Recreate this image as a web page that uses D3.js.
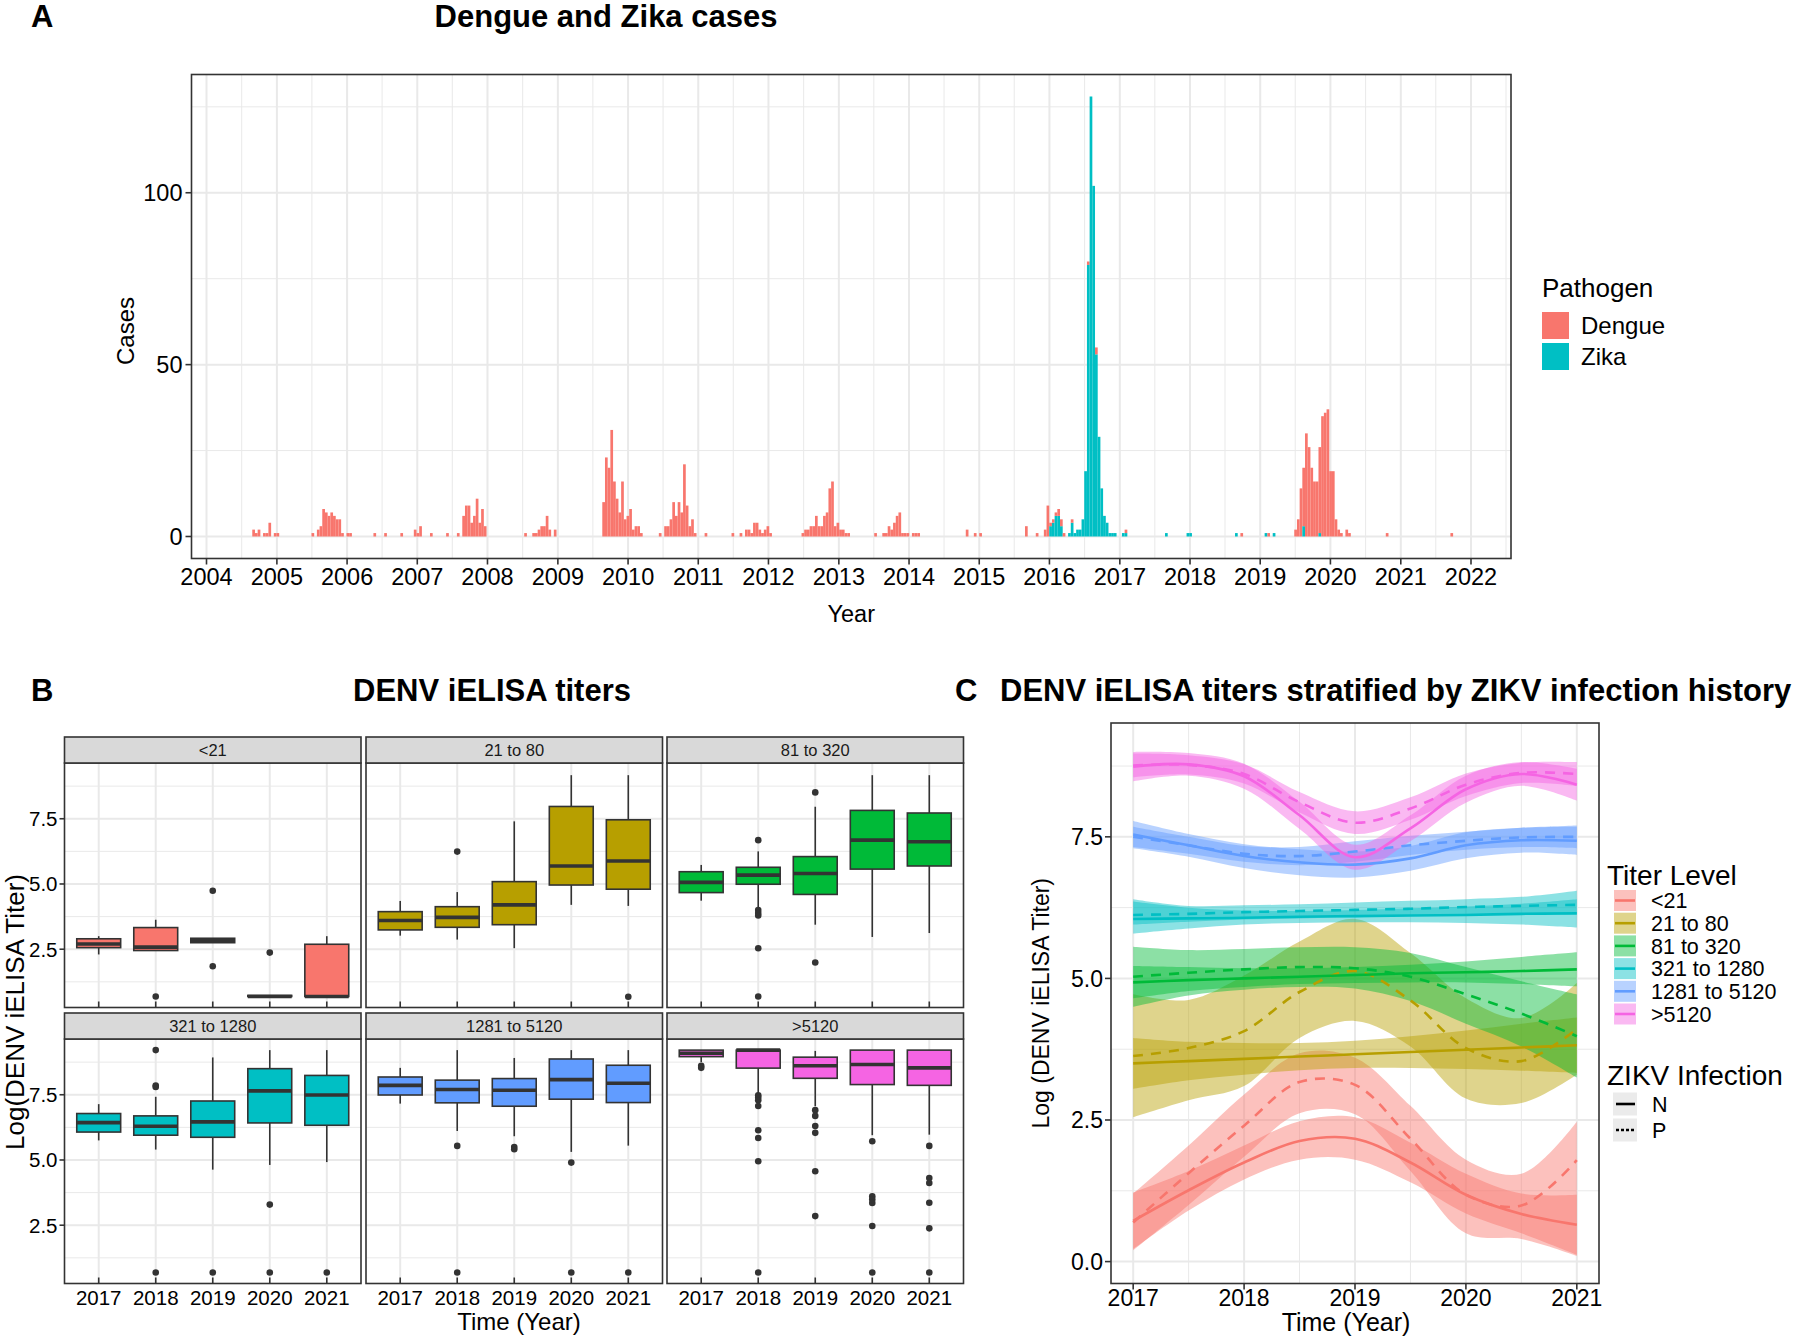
<!DOCTYPE html>
<html><head><meta charset="utf-8">
<script src="https://cdn.jsdelivr.net/npm/d3@7"></script>
<style>body{margin:0;background:#fff} svg{display:block} text{font-family:"Liberation Sans",Arial,Helvetica,sans-serif}</style>
</head><body>
<svg id="chart" width="1800" height="1340"></svg>
<script>
// ---------------- DATA ----------------
// Panel A: two-week bins counted from 2004-01-01 (bin index) and case counts
const binOrigin = "2004-01-01";
const dengueBin = [17,18,19,21,22,23,25,26,
  39,41,42,43,44,45,46,47,48,49,50,52,53,
  62,66,72,77,78,79,83,89,93,
  95,96,97,98,99,100,101,102,103,
  118,121,122,123,124,125,126,127,129,
  147,148,149,150,151,152,153,154,155,156,157,158,159,160,161,
  168,170,171,172,173,174,175,176,177,178,179,180,181,185,
  195,198,200,201,202,203,204,205,206,207,208,209,
  221,222,223,224,225,226,227,228,229,230,231,232,233,234,235,236,237,238,
  248,251,252,253,254,255,256,257,258,259,260,262,263,264,
  282,285,287,
  304,308,311,312,313,314,315,316,317,318,321,327,330,341,
  384,394,
  404,405,406,407,408,409,410,411,412,413,414,415,416,417,418,419,420,421,423,424,438,462];
const dengueCases = [2,1,2,1,1,4,1,1,
  1,2,3,8,7,6,7,6,5,5,1,1,1,
  1,1,1,2,1,3,1,1,1,
  6,9,9,4,6,11,4,8,3,
  1,1,1,2,3,3,6,2,2,
  10,23,20,31,16,11,7,16,5,6,8,2,3,3,1,
  1,3,3,5,10,6,10,7,21,9,3,5,1,1,
  1,1,2,2,1,4,4,2,1,2,3,1,
  1,2,2,3,3,6,3,3,6,7,14,16,3,4,2,2,1,1,
  1,1,1,3,2,4,6,7,1,1,1,1,1,1,
  2,1,1,
  3,1,2,9,1,1,1,2,2,1,1,1,2,1,
  1,1,
  2,5,14,17,30,26,20,16,16,25,35,36,37,19,19,5,2,1,2,1,1,1];
const zikaBin = [313,314,315,316,317,320,321,322,323,324,325,326,327,328,329,330,331,332,333,334,335,336,337,340,341,356,364,365,382,393,396,407,413];
const zikaCases = [3,4,6,6,3,1,4,1,2,2,5,19,79,128,102,53,29,14,6,4,1,1,1,1,1,1,1,1,1,1,1,3,1];
const pathogens = ["Dengue","Zika"];
const pathogenColors = ["#F8766D","#00BFC4"];
const yearTicksA = [2004,2005,2006,2007,2008,2009,2010,2011,2012,2013,2014,2015,2016,2017,2018,2019,2020,2021,2022];
const caseTicks = [0,50,100];

// Panel B: boxplot statistics (log titer) per titer level (rows) and year (columns)
const titerLevels = ["<21","21 to 80","81 to 320","321 to 1280","1281 to 5120",">5120"];
const titerColors = ["#F8766D","#B79F00","#00BA38","#00BFC4","#619CFF","#F564E3"];
const boxYears = ["2017","2018","2019","2020","2021"];
const boxLow  = [[2.30,2.45,2.75,0.69,0.69],[3.02,2.87,2.54,4.20,4.16],[4.36,4.11,3.44,2.97,3.12],[5.75,5.40,4.63,4.81,4.92],[7.16,6.11,5.91,5.31,5.55],[8.75,7.50,7.06,5.95,5.97]];
const boxQ1   = [[2.56,2.45,2.75,0.69,0.69],[3.24,3.34,3.44,4.96,4.80],[4.67,4.99,4.60,5.57,5.69],[6.07,5.95,5.87,6.42,6.33],[7.49,7.19,7.06,7.33,7.20],[8.96,8.52,8.13,7.89,7.86]];
const boxMed  = [[2.70,2.58,2.83,0.69,0.69],[3.60,3.72,4.20,5.69,5.88],[5.06,5.34,5.40,6.68,6.62],[6.43,6.29,6.46,7.65,7.49],[7.86,7.70,7.67,8.08,7.94],[9.09,9.21,8.61,8.66,8.53]];
const boxQ3   = [[2.90,3.33,2.92,0.73,2.69],[3.94,4.13,5.09,7.97,7.46],[5.47,5.64,6.05,7.82,7.72],[6.78,6.69,7.26,8.50,8.24],[8.18,8.06,8.12,8.87,8.63],[9.21,9.21,8.94,9.21,9.21]];
const boxHigh = [[3.00,3.63,2.92,0.73,3.00],[4.35,4.69,7.40,9.17,9.17],[5.73,6.25,7.96,9.17,9.17],[7.14,7.42,8.93,9.21,9.21],[8.53,9.21,8.91,9.21,9.21],[9.21,9.21,9.18,9.21,9.21]];
// outliers: [year index, value]
const boxOutliers = [
  [[1,0.69],[2,4.74],[2,1.85],[3,2.37]],
  [[1,6.24],[4,0.68]],
  [[1,6.68],[1,4.00],[1,3.89],[1,3.79],[1,2.54],[1,0.69],[2,8.51],[2,1.99]],
  [[1,9.21],[1,7.85],[1,7.80],[1,0.69],[2,0.69],[3,3.29],[3,0.69],[4,0.69]],
  [[1,5.54],[1,0.69],[2,5.50],[2,5.41],[3,4.90],[3,0.69],[4,0.69]],
  [[0,8.61],[0,8.53],[1,7.48],[1,7.39],[1,7.29],[1,7.07],[1,6.14],[1,5.84],[1,4.95],[1,0.69],
   [2,6.91],[2,6.69],[2,6.30],[2,6.04],[2,4.57],[2,2.85],
   [3,5.72],[3,3.61],[3,3.49],[3,3.35],[3,2.47],[3,0.69],
   [4,5.54],[4,4.31],[4,4.12],[4,3.36],[4,2.38],[4,0.69]]
];
const titerTicks = [2.5,5.0,7.5];

// Panel C: smoothed fits (ZIKV N = solid, P = dashed) with confidence bands
const smoothTimes = [2017,2017.5,2018,2018.5,2019,2019.5,2020,2020.5,2021];
const fitN = [
  [0.72,1.26,1.75,2.13,2.17,1.75,1.18,0.84,0.65],
  [3.50,3.54,3.58,3.62,3.66,3.70,3.74,3.78,3.82],
  [4.93,4.97,5.00,5.03,5.06,5.09,5.11,5.13,5.16],
  [6.05,6.06,6.07,6.09,6.10,6.11,6.12,6.14,6.15],
  [7.54,7.35,7.16,7.05,7.01,7.12,7.35,7.44,7.43],
  [8.74,8.78,8.57,7.88,7.14,7.65,8.34,8.61,8.42]];
const lowN = [
  [0.22,0.90,1.45,1.80,1.80,1.40,0.85,0.50,0.12],
  [3.05,3.20,3.30,3.38,3.42,3.42,3.40,3.37,3.33],
  [4.65,4.78,4.85,4.90,4.92,4.93,4.93,4.90,4.86],
  [5.79,5.88,5.95,5.98,5.99,5.99,5.98,5.95,5.90],
  [7.30,7.15,6.95,6.82,6.78,6.90,7.12,7.22,7.18],
  [8.48,8.58,8.35,7.64,6.92,7.42,8.10,8.40,8.14]];
const highN = [
  [1.22,1.60,2.05,2.48,2.55,2.10,1.55,1.20,1.18],
  [3.95,3.88,3.86,3.86,3.90,3.98,4.08,4.20,4.31],
  [5.22,5.20,5.18,5.18,5.20,5.24,5.30,5.38,5.46],
  [6.36,6.25,6.20,6.19,6.21,6.24,6.27,6.32,6.40],
  [7.78,7.55,7.37,7.28,7.24,7.34,7.58,7.66,7.68],
  [9.00,8.98,8.79,8.12,7.36,7.88,8.58,8.82,8.70]];
const fitP = [
  [0.69,1.56,2.40,3.17,3.12,2.17,1.18,0.99,1.79],
  [3.63,3.77,4.07,4.76,5.13,4.61,3.77,3.54,4.11],
  [5.03,5.10,5.16,5.20,5.18,5.03,4.72,4.38,3.98],
  [6.12,6.14,6.17,6.19,6.21,6.23,6.26,6.28,6.30],
  [7.50,7.35,7.20,7.16,7.24,7.35,7.43,7.49,7.50],
  [8.76,8.77,8.61,8.11,7.75,8.00,8.42,8.63,8.61]];
const lowP = [
  [0.20,1.00,1.85,2.62,2.60,1.60,0.50,0.40,0.10],
  [2.55,2.85,3.10,3.95,4.25,3.80,2.88,2.80,3.30],
  [4.50,4.70,4.80,4.85,4.82,4.60,4.20,3.80,3.25],
  [5.95,6.00,6.04,6.06,6.08,6.10,6.12,6.13,6.12],
  [7.32,7.20,7.06,7.00,7.06,7.18,7.27,7.32,7.30],
  [8.55,8.60,8.44,7.93,7.55,7.80,8.22,8.45,8.40]];
const highP = [
  [1.20,2.05,2.95,3.68,3.60,2.75,1.80,1.55,2.47],
  [4.72,4.62,5.05,5.65,6.05,5.45,4.65,4.30,4.92],
  [5.56,5.50,5.52,5.55,5.55,5.45,5.20,4.95,4.72],
  [6.40,6.28,6.29,6.31,6.34,6.37,6.40,6.44,6.55],
  [7.68,7.50,7.34,7.32,7.42,7.52,7.59,7.66,7.70],
  [8.97,8.94,8.78,8.29,7.95,8.20,8.62,8.81,8.82]];
const zikvGroups = ["N","P"];
const yearTicksC = [2017,2018,2019,2020,2021];
const titerTicksC = [0.0,2.5,5.0,7.5];

// ---------------- DRAWING ----------------
const svg = d3.select("#chart");
const GRID = "#e9e9e9", BORDER = "#333333";
const f1 = d3.format(".1f");

function txt(g, x, y, s, size, opt = {}) {
  const t = g.append("text").attr("x", x).attr("y", y).text(s)
    .attr("font-size", size).attr("fill", opt.fill || "#000")
    .attr("text-anchor", opt.anchor || "start");
  if (opt.bold) t.attr("font-weight", "bold");
  if (opt.rotate) t.attr("transform", `rotate(-90,${x},${y})`);
  if (opt.dy) t.attr("dy", opt.dy);
  return t;
}

// ===== Panel A =====
const A = {x0: 191.5, x1: 1511, y0: 74.5, y1: 558.5};
const parseD = d3.utcParse("%Y-%m-%d");
const origin = parseD(binOrigin);
const binDate = k => d3.utcDay.offset(origin, k * 14);
const xA = d3.scaleUtc().domain([Date.UTC(2003, 9, 15), Date.UTC(2022, 6, 28)]).range([A.x0, A.x1]);
const yA = d3.scaleLinear().domain([-6.4, 134.4]).range([A.y1, A.y0]);
const gA = svg.append("g");
gA.append("rect").attr("x", A.x0).attr("y", A.y0).attr("width", A.x1 - A.x0).attr("height", A.y1 - A.y0).attr("fill", "#fff");
const minorYearsA = d3.range(yearTicksA[0] - 1, yearTicksA[yearTicksA.length - 1] + 1).map(y => Date.UTC(y, 6, 2)).filter(d => xA(d) > A.x0 && xA(d) < A.x1);
gA.selectAll(".mvx").data(minorYearsA).join("line").attr("x1", d => xA(d)).attr("x2", d => xA(d)).attr("y1", A.y0).attr("y2", A.y1).attr("stroke", GRID).attr("stroke-width", 1);
[25, 75, 125].forEach(v => gA.append("line").attr("x1", A.x0).attr("x2", A.x1).attr("y1", yA(v)).attr("y2", yA(v)).attr("stroke", GRID).attr("stroke-width", 1));
gA.selectAll(".Mvx").data(yearTicksA).join("line").attr("x1", d => xA(Date.UTC(d, 0, 1))).attr("x2", d => xA(Date.UTC(d, 0, 1))).attr("y1", A.y0).attr("y2", A.y1).attr("stroke", GRID).attr("stroke-width", 2);
caseTicks.forEach(v => gA.append("line").attr("x1", A.x0).attr("x2", A.x1).attr("y1", yA(v)).attr("y2", yA(v)).attr("stroke", GRID).attr("stroke-width", 2));
// bars (stacked: Zika bottom, Dengue top)
const zikaMap = new Map(zikaBin.map((k, i) => [k, zikaCases[i]]));
const dengueMap = new Map(dengueBin.map((k, i) => [k, dengueCases[i]]));
const allBins = Array.from(new Set([...dengueBin, ...zikaBin])).sort((a, b) => a - b);
allBins.forEach(k => {
  const x0 = xA(binDate(k)), x1 = xA(binDate(k + 1));
  const z = zikaMap.get(k) || 0, d = dengueMap.get(k) || 0;
  if (z > 0) gA.append("rect").attr("x", x0).attr("width", x1 - x0).attr("y", yA(z)).attr("height", yA(0) - yA(z)).attr("fill", pathogenColors[1]);
  if (d > 0) gA.append("rect").attr("x", x0).attr("width", x1 - x0).attr("y", yA(z + d)).attr("height", yA(z) - yA(z + d)).attr("fill", pathogenColors[0]);
});
gA.append("rect").attr("x", A.x0).attr("y", A.y0).attr("width", A.x1 - A.x0).attr("height", A.y1 - A.y0).attr("fill", "none").attr("stroke", BORDER).attr("stroke-width", 1.6);
yearTicksA.forEach(y => {
  const x = xA(Date.UTC(y, 0, 1));
  gA.append("line").attr("x1", x).attr("x2", x).attr("y1", A.y1).attr("y2", A.y1 + 6).attr("stroke", BORDER).attr("stroke-width", 1.6);
  txt(gA, x, 585, String(y), 23.5, {anchor: "middle"});
});
caseTicks.forEach(v => {
  gA.append("line").attr("x1", A.x0 - 6).attr("x2", A.x0).attr("y1", yA(v)).attr("y2", yA(v)).attr("stroke", BORDER).attr("stroke-width", 1.6);
  txt(gA, A.x0 - 9, yA(v), String(v), 23.5, {anchor: "end", dy: "0.36em"});
});
txt(gA, (A.x0 + A.x1) / 2, 622, "Year", 23.5, {anchor: "middle"});
txt(gA, 134, 331, "Cases", 24, {anchor: "middle", rotate: true});
txt(gA, 31, 27, "A", 31, {bold: true});
txt(gA, 606, 27, "Dengue and Zika cases", 31, {bold: true, anchor: "middle"});
txt(gA, 1542, 297, "Pathogen", 26);
pathogens.forEach((p, i) => {
  gA.append("rect").attr("x", 1542).attr("y", 312 + i * 31).attr("width", 27).attr("height", 27).attr("fill", pathogenColors[i]);
  txt(gA, 1581, 334 + i * 31, p, 24);
});

// ===== Panel B =====
const gB = svg.append("g");
const Bcols = [64.5, 366, 667], Brows = [737, 1013], stripH = 26, BW = 296.5, BH = 244.5;
const xB = d3.scalePoint().domain(boxYears).range([0, BW]).padding(0.6);
const yB = d3.scaleLinear().domain([0.267, 9.636]).range([BH, 0]);
const boxW = xB.step() * 0.77;
titerLevels.forEach((lvl, f) => {
  const col = f % 3, row = Math.floor(f / 3);
  const px = Bcols[col], py = Brows[row] + stripH;
  const g = gB.append("g").attr("transform", `translate(${px},${py})`);
  g.append("rect").attr("width", BW).attr("height", BH).attr("fill", "#fff");
  [1.25, 3.75, 6.25, 8.75].forEach(v => g.append("line").attr("x1", 0).attr("x2", BW).attr("y1", yB(v)).attr("y2", yB(v)).attr("stroke", GRID).attr("stroke-width", 1));
  titerTicks.forEach(v => g.append("line").attr("x1", 0).attr("x2", BW).attr("y1", yB(v)).attr("y2", yB(v)).attr("stroke", GRID).attr("stroke-width", 2));
  boxYears.forEach(yr => g.append("line").attr("x1", xB(yr)).attr("x2", xB(yr)).attr("y1", 0).attr("y2", BH).attr("stroke", GRID).attr("stroke-width", 2));
  boxYears.forEach((yr, j) => {
    const cx = xB(yr);
    g.append("line").attr("x1", cx).attr("x2", cx).attr("y1", yB(boxHigh[f][j])).attr("y2", yB(boxQ3[f][j])).attr("stroke", BORDER).attr("stroke-width", 1.6);
    g.append("line").attr("x1", cx).attr("x2", cx).attr("y1", yB(boxQ1[f][j])).attr("y2", yB(boxLow[f][j])).attr("stroke", BORDER).attr("stroke-width", 1.6);
    g.append("rect").attr("x", cx - boxW / 2).attr("width", boxW).attr("y", yB(boxQ3[f][j])).attr("height", Math.max(0.5, yB(boxQ1[f][j]) - yB(boxQ3[f][j])))
      .attr("fill", titerColors[f]).attr("stroke", BORDER).attr("stroke-width", 1.6);
    g.append("line").attr("x1", cx - boxW / 2).attr("x2", cx + boxW / 2).attr("y1", yB(boxMed[f][j])).attr("y2", yB(boxMed[f][j])).attr("stroke", BORDER).attr("stroke-width", 3.6);
  });
  boxOutliers[f].forEach(([j, v]) => g.append("circle").attr("cx", xB(boxYears[j])).attr("cy", yB(v)).attr("r", 3.3).attr("fill", BORDER));
  boxYears.forEach(yr => g.append("line").attr("x1", xB(yr)).attr("x2", xB(yr)).attr("y1", BH).attr("y2", BH - 6).attr("stroke", BORDER).attr("stroke-width", 1.6));
  g.append("rect").attr("width", BW).attr("height", BH).attr("fill", "none").attr("stroke", BORDER).attr("stroke-width", 1.6);
  g.append("rect").attr("y", -stripH).attr("width", BW).attr("height", stripH).attr("fill", "#d9d9d9").attr("stroke", BORDER).attr("stroke-width", 1.6);
  txt(g, BW / 2, -stripH / 2, lvl, 16.5, {anchor: "middle", dy: "0.36em", fill: "#1a1a1a"});
  if (col === 0) {
    titerTicks.forEach(v => {
      g.append("line").attr("x1", -5).attr("x2", 0).attr("y1", yB(v)).attr("y2", yB(v)).attr("stroke", BORDER).attr("stroke-width", 1.6);
      txt(g, -7, yB(v), f1(v), 20.5, {anchor: "end", dy: "0.36em"});
    });
  }
  if (row === 1) boxYears.forEach(yr => txt(g, xB(yr), BH + 21, yr, 20.5, {anchor: "middle"}));
});
txt(gB, 31, 701, "B", 31, {bold: true});
txt(gB, 492, 701, "DENV iELISA titers", 31, {bold: true, anchor: "middle"});
txt(gB, 519, 1330, "Time (Year)", 24, {anchor: "middle"});
txt(gB, 24, 1012, "Log(DENV iELISA Titer)", 26, {anchor: "middle", rotate: true});

// ===== Panel C =====
const C = {x0: 1111, x1: 1599, y0: 723, y1: 1283.5};
const xC = d3.scaleLinear().domain([2016.8, 2021.2]).range([C.x0, C.x1]);
const yC = d3.scaleLinear().domain([-0.387, 9.51]).range([C.y1, C.y0]);
const gC = svg.append("g");
gC.append("rect").attr("x", C.x0).attr("y", C.y0).attr("width", C.x1 - C.x0).attr("height", C.y1 - C.y0).attr("fill", "#fff");
[2017.5, 2018.5, 2019.5, 2020.5].forEach(v => gC.append("line").attr("x1", xC(v)).attr("x2", xC(v)).attr("y1", C.y0).attr("y2", C.y1).attr("stroke", GRID).attr("stroke-width", 1));
[1.25, 3.75, 6.25, 8.75].forEach(v => gC.append("line").attr("x1", C.x0).attr("x2", C.x1).attr("y1", yC(v)).attr("y2", yC(v)).attr("stroke", GRID).attr("stroke-width", 1));
yearTicksC.forEach(v => gC.append("line").attr("x1", xC(v)).attr("x2", xC(v)).attr("y1", C.y0).attr("y2", C.y1).attr("stroke", GRID).attr("stroke-width", 2));
titerTicksC.forEach(v => gC.append("line").attr("x1", C.x0).attr("x2", C.x1).attr("y1", yC(v)).attr("y2", yC(v)).attr("stroke", GRID).attr("stroke-width", 2));
const curve = d3.curveCatmullRom.alpha(0.5);
const area = d3.area().x(d => xC(d.t)).y0(d => yC(d.lo)).y1(d => yC(d.hi)).curve(curve);
const line = d3.line().x(d => xC(d.t)).y(d => yC(d.v)).curve(curve);
const series = [];
titerLevels.forEach((lvl, i) => {
  series.push({i, dash: false, pts: smoothTimes.map((t, j) => ({t, v: fitN[i][j], lo: lowN[i][j], hi: highN[i][j]}))});
  series.push({i, dash: true, pts: smoothTimes.map((t, j) => ({t, v: fitP[i][j], lo: lowP[i][j], hi: highP[i][j]}))});
});
series.forEach(s => gC.append("path").attr("d", area(s.pts)).attr("fill", titerColors[s.i]).attr("fill-opacity", 0.45));
series.forEach(s => gC.append("path").attr("d", line(s.pts)).attr("fill", "none").attr("stroke", titerColors[s.i]).attr("stroke-width", 2.6)
  .attr("stroke-dasharray", s.dash ? "10,8" : null));
gC.append("rect").attr("x", C.x0).attr("y", C.y0).attr("width", C.x1 - C.x0).attr("height", C.y1 - C.y0).attr("fill", "none").attr("stroke", BORDER).attr("stroke-width", 1.6);
yearTicksC.forEach(v => {
  gC.append("line").attr("x1", xC(v)).attr("x2", xC(v)).attr("y1", C.y1).attr("y2", C.y1 + 6).attr("stroke", BORDER).attr("stroke-width", 1.6);
  txt(gC, xC(v), 1306, String(v), 23, {anchor: "middle"});
});
titerTicksC.forEach(v => {
  gC.append("line").attr("x1", C.x0 - 6).attr("x2", C.x0).attr("y1", yC(v)).attr("y2", yC(v)).attr("stroke", BORDER).attr("stroke-width", 1.6);
  txt(gC, C.x0 - 8, yC(v), f1(v), 23, {anchor: "end", dy: "0.36em"});
});
txt(gC, 1346, 1331, "Time (Year)", 25, {anchor: "middle"});
txt(gC, 1049, (C.y0 + C.y1) / 2, "Log (DENV iELISA Titer)", 23, {anchor: "middle", rotate: true});
txt(gC, 955, 701, "C", 31, {bold: true});
txt(gC, 1000, 701, "DENV iELISA titers stratified by ZIKV infection history", 31, {bold: true});
txt(gC, 1607, 885, "Titer Level", 28);
titerLevels.forEach((lvl, i) => {
  const y = 890 + i * 22.7;
  gC.append("rect").attr("x", 1614).attr("y", y).attr("width", 22).attr("height", 21).attr("fill", titerColors[i]).attr("fill-opacity", 0.45);
  gC.append("line").attr("x1", 1615).attr("x2", 1635).attr("y1", y + 10.5).attr("y2", y + 10.5).attr("stroke", titerColors[i]).attr("stroke-width", 2.6);
  txt(gC, 1651, y + 10.5, lvl, 21.5, {dy: "0.36em"});
});
txt(gC, 1607, 1085, "ZIKV Infection", 28);
zikvGroups.forEach((z, i) => {
  const cy = 1104 + i * 26;
  gC.append("rect").attr("x", 1613).attr("y", cy - 11.5).attr("width", 24).attr("height", 23).attr("fill", "#ebebeb");
  gC.append("line").attr("x1", 1616).attr("x2", 1635).attr("y1", cy).attr("y2", cy).attr("stroke", "#000").attr("stroke-width", 2.6)
    .attr("stroke-dasharray", i === 1 ? "3,2" : null);
  txt(gC, 1652, cy, z, 21.5, {dy: "0.36em"});
});
</script></body></html>
